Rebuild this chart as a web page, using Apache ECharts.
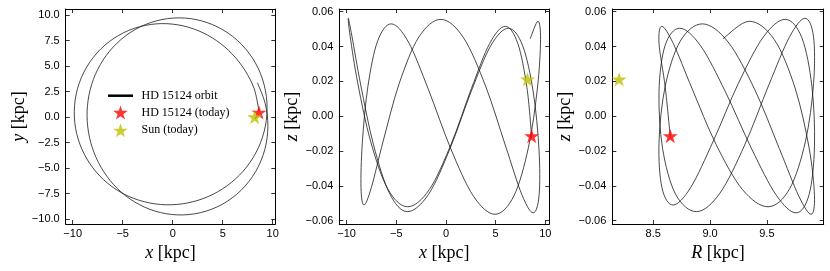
<!DOCTYPE html>
<html><head><meta charset="utf-8">
<script src="https://cdn.jsdelivr.net/npm/echarts@6/dist/echarts.min.js"></script>
<style>html,body{margin:0;padding:0;background:#fff}#c{width:830px;height:271px}</style>
</head><body><div id="c"></div>
<script>
// Orbit of HD 15124 (time-ordered samples), kpc
const orbitX = [8.630, 8.147, 7.220, 5.958, 4.391, 2.555, 0.505, -1.676, -3.868, -5.865, -7.581, -8.877, -9.648, -9.835, -9.458, -8.582, -7.292, -5.694, -3.894, -1.749, 0.419, 2.529, 4.508, 6.282, 7.722, 8.783, 9.361, 9.373, 8.770, 7.628, 5.997, 3.993, 1.770, -0.505, -2.736, -4.708, -6.318, -7.506, -8.251, -8.556, -8.421, -7.861, -6.885, -5.501, -3.784, -1.760, 0.469, 2.761, 4.945, 6.840, 8.298, 9.206, 9.520, 9.256, 8.474];
const orbitY = [0.600, 2.774, 4.582, 6.169, 7.484, 8.465, 9.039, 9.133, 8.688, 7.726, 6.271, 4.406, 2.263, 0.000, -2.149, -4.112, -5.779, -7.082, -7.983, -8.520, -8.572, -8.169, -7.328, -6.068, -4.459, -2.518, -0.327, 1.992, 4.278, 6.266, 7.900, 9.055, 9.647, 9.648, 9.064, 7.961, 6.451, 4.654, 2.681, 0.599, -1.485, -3.500, -5.380, -7.040, -8.341, -9.228, -9.597, -9.383, -8.564, -7.183, -5.347, -3.206, -0.934, 1.301, 3.355];
const orbitZ = [-0.0125, 0.0165, 0.0419, 0.0516, 0.0417, 0.0158, -0.0162, -0.0421, -0.0520, -0.0417, -0.0146, 0.0188, 0.0459, 0.0562, 0.0456, 0.0179, -0.0165, -0.0442, -0.0548, -0.0448, -0.0184, 0.0141, 0.0405, 0.0505, 0.0404, 0.0139, -0.0189, -0.0454, -0.0555, -0.0449, -0.0171, 0.0172, 0.0450, 0.0556, 0.0454, 0.0188, -0.0142, -0.0408, -0.0510, -0.0411, -0.0151, 0.0171, 0.0431, 0.0530, 0.0426, 0.0152, -0.0185, -0.0459, -0.0563, -0.0457, -0.0180, 0.0162, 0.0439, 0.0545, 0.0445];
const orbitR = [8.651, 8.606, 8.551, 8.576, 8.677, 8.842, 9.053, 9.285, 9.511, 9.700, 9.839, 9.911, 9.910, 9.835, 9.700, 9.517, 9.305, 9.087, 8.882, 8.697, 8.582, 8.551, 8.604, 8.734, 8.917, 9.136, 9.367, 9.583, 9.758, 9.872, 9.919, 9.896, 9.808, 9.662, 9.468, 9.249, 9.029, 8.831, 8.675, 8.577, 8.551, 8.605, 8.738, 8.934, 9.159, 9.394, 9.609, 9.781, 9.889, 9.919, 9.871, 9.748, 9.566, 9.347, 9.114];

// Present-day positions: [HD 15124, Sun]
const starNames = ['HD 15124 (today)', 'Sun (today)'];
const starColors = ['#ff0000', '#bfbf00'];
const starX = [8.63, 8.2];
const starY = [0.45, 0.0];
const starZ = [-0.0114, 0.0212];
const starR = [8.65, 8.2];

// Tick labels
const xTicks = [-10, -5, 0, 5, 10];
const yTicks = [-10, -7.5, -5, -2.5, 0, 2.5, 5, 7.5, 10];
const zTicks = [-0.06, -0.04, -0.02, 0, 0.02, 0.04, 0.06];
const rTicks = [8.5, 9.0, 9.5];

const STAR = 'path://M100,0 L122.45,69.1 L195.1,69.1 L136.33,111.8 L158.78,180.9 L100,138.2 L41.22,180.9 L63.67,111.8 L4.9,69.1 L77.55,69.1 Z';
const fmt = d => v => (v < 0 ? '\u2212' : '') + Math.abs(v).toFixed(d);
const tickFont = {fontFamily: 'Liberation Sans', fontSize: 11, color: '#000'};
const nameStyle = {fontFamily: 'Liberation Serif', fontSize: 18, color: '#000',
  rich: {i: {fontFamily: 'Liberation Serif', fontSize: 18, fontStyle: 'italic', color: '#000'}}};
const line = {show: true, onZero: false, lineStyle: {color: '#000', width: 1}};

function xAxes(gi, min, max, ticks, d, name) {
  return [
    {type: 'value', gridIndex: gi, position: 'bottom', min, max,
     axisLine: line,
     axisTick: {show: true, inside: true, length: 4, customValues: ticks, lineStyle: {color: '#000', width: 0.8}},
     axisLabel: Object.assign({show: true, customValues: ticks, formatter: fmt(d), margin: 4}, tickFont),
     splitLine: {show: false},
     name: name, nameLocation: 'middle', nameGap: 10, nameTextStyle: nameStyle},
    {type: 'value', gridIndex: gi, position: 'top', min, max,
     axisLine: line,
     axisTick: {show: true, inside: true, length: 4, customValues: ticks, lineStyle: {color: '#000', width: 0.8}},
     axisLabel: {show: false}, splitLine: {show: false}}
  ];
}
function yAxes(gi, min, max, ticks, d, name, gap) {
  return [
    {type: 'value', gridIndex: gi, position: 'left', min, max,
     axisLine: line,
     axisTick: {show: true, inside: true, length: 4, customValues: ticks, lineStyle: {color: '#000', width: 0.8}},
     axisLabel: Object.assign({show: true, customValues: ticks, formatter: fmt(d), margin: 6}, tickFont),
     splitLine: {show: false},
     name: name, nameLocation: 'middle', nameGap: gap, nameTextStyle: nameStyle},
    {type: 'value', gridIndex: gi, position: 'right', min, max,
     axisLine: line,
     axisTick: {show: true, inside: true, length: 4, customValues: ticks, lineStyle: {color: '#000', width: 0.8}},
     axisLabel: {show: false}, splitLine: {show: false}}
  ];
}

// Orbit drawn as a smooth curve through the samples, positioned by the axes' scales
function orbitSeries(k, xs, ys) {
  return {
    name: 'HD 15124 orbit', type: 'custom', xAxisIndex: 2 * k, yAxisIndex: 2 * k,
    data: xs.map((v, i) => [v, ys[i]]), encode: {x: 0, y: 1},
    itemStyle: {color: '#000'}, z: 2, silent: true, clip: true,
    renderItem: function (params, api) {
      if (params.dataIndex !== 0) return null;
      const p = xs.map((v, i) => api.coord([v, ys[i]]));
      const n = p.length;
      let d = 'M' + p[0][0].toFixed(2) + ',' + p[0][1].toFixed(2);
      for (let i = 0; i < n - 1; i++) {
        const a = p[Math.max(i - 1, 0)], b = p[i], c = p[i + 1], e = p[Math.min(i + 2, n - 1)];
        const c1x = b[0] + (c[0] - a[0]) / 6, c1y = b[1] + (c[1] - a[1]) / 6;
        const c2x = c[0] - (e[0] - b[0]) / 6, c2y = c[1] - (e[1] - b[1]) / 6;
        d += 'C' + c1x.toFixed(2) + ',' + c1y.toFixed(2) + ',' + c2x.toFixed(2) + ',' + c2y.toFixed(2) + ',' + c[0].toFixed(2) + ',' + c[1].toFixed(2);
      }
      return {type: 'path', shape: {pathData: d}, style: {stroke: '#1a1a1a', fill: 'none', lineWidth: 0.8}, silent: true};
    }
  };
}

const panels = [
  {xs: orbitX, ys: orbitY, sx: starX, sy: starY},
  {xs: orbitX, ys: orbitZ, sx: starX, sy: starZ},
  {xs: orbitR, ys: orbitZ, sx: starR, sy: starZ}
];
const series = [];
panels.forEach((p, k) => {
  series.push(orbitSeries(k, p.xs, p.ys));
  starNames.forEach((nm, j) => {
    series.push({
      name: nm, type: 'scatter', xAxisIndex: 2 * k, yAxisIndex: 2 * k,
      data: [[p.sx[j], p.sy[j]]], symbol: STAR, symbolSize: 15, symbolKeepAspect: true,
      itemStyle: {color: starColors[j]}, z: 3 + j, silent: true
    });
  });
});

const chart = echarts.init(document.getElementById('c'), null, {renderer: 'canvas'});
chart.setOption({
  animation: false,
  backgroundColor: '#fff',
  grid: [
    {left: 65.7, top: 9, width: 209.6, height: 215},
    {left: 339.3, top: 9, width: 210, height: 215},
    {left: 612.3, top: 9, width: 211.4, height: 215}
  ],
  xAxis: [].concat(
    xAxes(0, -10.7, 10.26, xTicks, 0, '{i|x} [kpc]'),
    xAxes(1, -10.74, 10.4, xTicks, 0, '{i|x} [kpc]'),
    xAxes(2, 8.14, 10.0, rTicks, 1, '{i|R} [kpc]')
  ),
  yAxis: [].concat(
    yAxes(0, -10.49, 10.59, yTicks, 1, '{i|y} [kpc]', 35),
    yAxes(1, -0.0619, 0.06155, zTicks, 2, '{i|z} [kpc]', 35),
    yAxes(2, -0.0619, 0.06155, zTicks, 2, '{i|z} [kpc]', 33.5)
  ),
  legend: {
    orient: 'vertical', left: 108, top: 89.7, padding: 0,
    itemWidth: 25, itemHeight: 14, itemGap: 3.8, selectedMode: false,
    textStyle: {fontFamily: 'Liberation Serif', fontSize: 12, color: '#000', padding: [0, 0, 0, 3.5]},
    data: [
      {name: 'HD 15124 orbit', icon: 'path://M0,0L40,0L40,4L0,4Z', itemStyle: {color: '#000'}},
      {name: 'HD 15124 (today)', icon: STAR},
      {name: 'Sun (today)', icon: STAR}
    ]
  },
  series: series
});
</script></body></html>
